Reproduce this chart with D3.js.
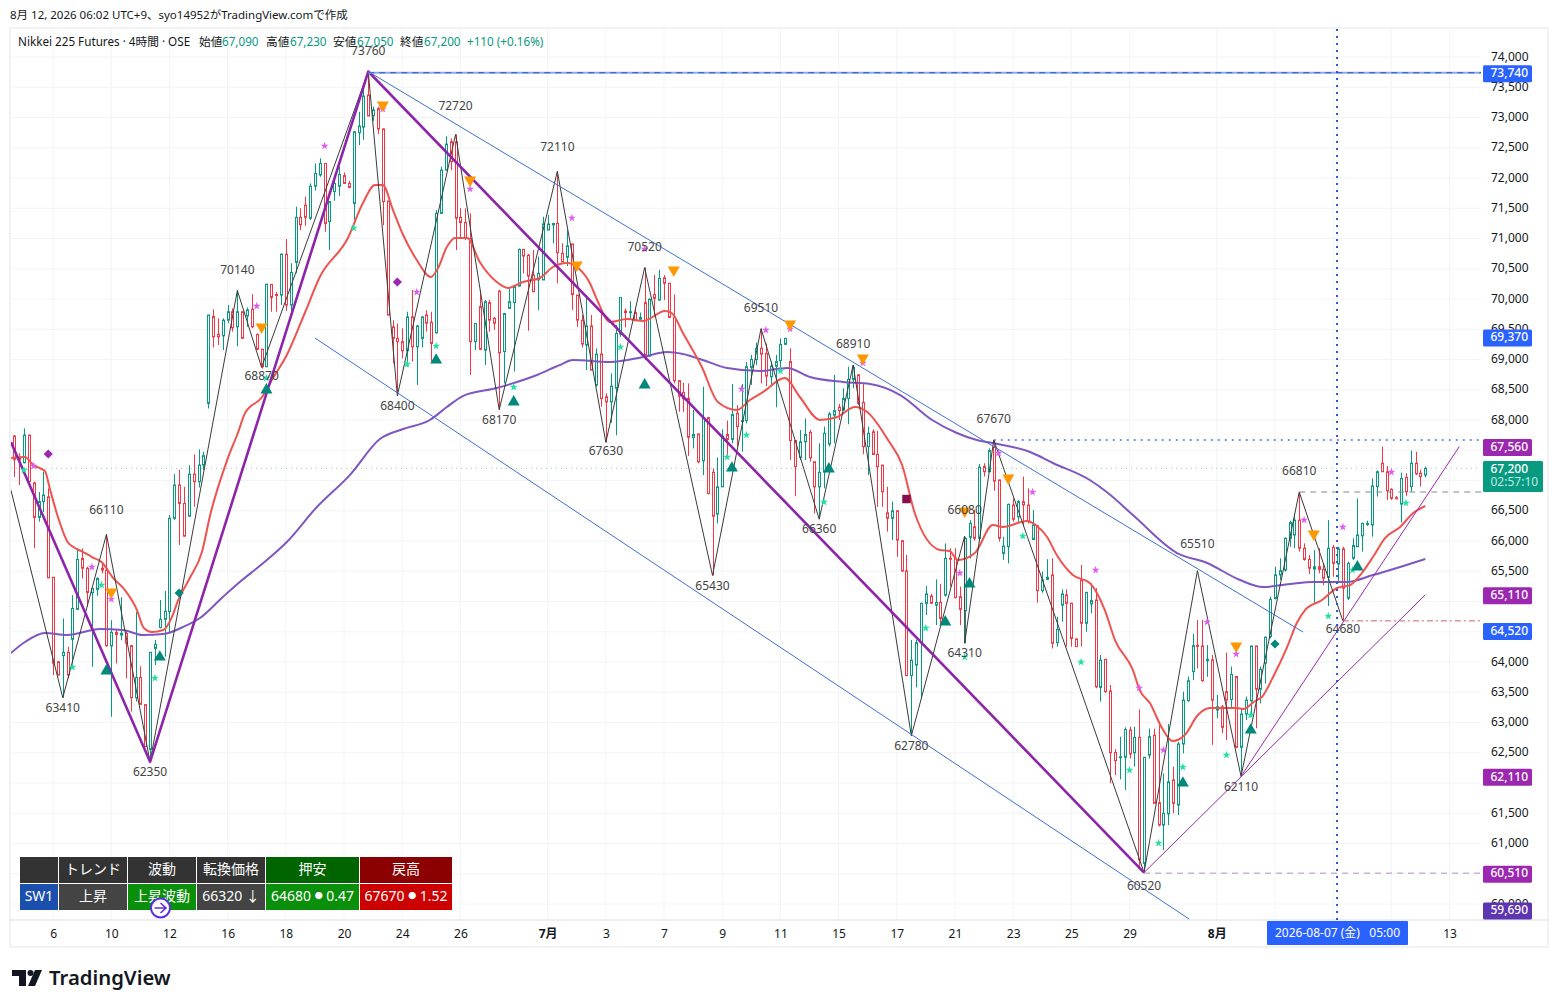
<!DOCTYPE html>
<html>
<head>
<meta charset="utf-8">
<script src="https://cdn.jsdelivr.net/npm/d3@7"></script>
<style>
  html, body { margin: 0; padding: 0; background: #fff; }
  text { font-family: "Noto Sans", "Noto Sans CJK JP", sans-serif; }
</style>
</head>
<body>
<svg id="chart" width="1558" height="1008"></svg>
<script>
const opens = [
  67735,67380,67294,67750,66960,66390,66650,66730,65400,64005,
  64105,64160,64375,64870,65710,65550,65145,65200,65550,65520,
  64265,64490,64445,64475,64270,63410,63745,63295,62555,64225,
  64570,64705,64830,66375,66925,66620,66410,67105,66980,67255,
  68275,69710,69415,69390,69650,69790,69540,69790,69720,69830,
  69415,69170,68880,70240,70075,70065,70740,69900,70605,71350,
  71550,71335,71865,72050,72240,71280,71775,71865,72040,71910,
  71580,72750,72840,73370,73030,73145,72810,71620,69540,69350,
  69295,69145,69705,69210,69350,69735,69615,69440,71415,72130,
  72600,72600,71350,71265,71000,69295,69875,69155,69940,69680,
  70130,69130,69845,69940,70215,70820,70725,70395,70315,70315,
  71140,71225,71250,70755,70690,70910,70065,69650,69240,69555,
  68580,69090,68385,68300,68525,69420,69800,69775,69775,69665,
  69940,69055,70075,69985,70350,70260,69695,68650,68455,68355,
  67710,67770,67325,68040,67135,66445,66895,67760,67680,68110,
  67975,67990,68870,69000,69185,69100,68715,68890,68980,69250,
  68965,67660,67380,67640,67795,67310,66895,67145,67600,68080,
  68210,68165,68355,68670,68745,68290,67560,67805,67430,67255,
  66465,66375,66500,66005,65505,63775,63950,64320,64970,65090,
  64940,64985,65105,65715,65715,65080,64850,66060,66235,66045,
  67230,67145,67560,67010,65795,65905,66595,66400,66650,66595,
  66025,66250,65180,65365,65440,64320,64940,65110,64970,64380,
  65355,64640,64960,65025,63580,64045,63520,62505,62425,62425,
  62875,62500,62755,60670,62460,62790,61675,61305,61490,62050,
  61635,62645,63360,63840,64275,64265,64020,64035,63205,63260,
  63510,63380,63760,62590,63140,63360,64265,63550,63980,64420,
  65050,65440,65520,66045,66100,66345,65880,65695,65535,65575,
  65530,65400,65895,65620,65870,65055,65715,65905,66085,66275,
  66265,66900,67285,67145,66855,66715,66610,67050,66900,67285,
  67120,67090]
const highs = [
  67750,67450,67862,67760,66980,66810,67145,66870,65400,64005,
  64720,64250,65105,65880,65880,65575,65215,65400,65630,66110,
  64690,64530,65070,64530,64280,64830,63930,63305,64160,64365,
  65025,65175,66430,67105,67175,66895,67255,67430,67515,67475,
  69735,69830,69680,69680,69900,69845,70150,69790,69860,70080,
  69430,69170,70250,70245,70120,70755,70990,70590,71525,71500,
  71690,71910,72240,72325,72240,71610,72000,72185,72090,71955,
  72765,73095,73480,73760,73180,73180,72820,71620,69650,69595,
  69515,69790,70150,69570,69705,69815,69790,71470,72185,72690,
  72655,72720,71500,71500,71415,69595,70150,69985,69985,69705,
  70150,69760,70175,70205,70835,70820,70745,70810,70700,71360,
  71390,71250,72110,70920,71140,70910,70065,69735,70065,69735,
  69185,69760,68440,68770,69570,70025,69845,69965,69860,69775,
  70520,70010,70395,70480,70395,70260,70075,68650,68615,68605,
  68165,67770,68550,68040,67200,67380,67845,67990,68595,68245,
  68595,68960,69075,69280,69510,69265,68965,69075,69350,69350,
  69185,67670,67835,68025,67835,67310,67615,67890,68135,68745,
  68265,68525,68880,68910,68760,68605,67890,67845,67820,67255,
  66895,66650,66500,66005,65770,64365,64365,64980,65255,65125,
  65365,65290,65960,65880,65880,65245,66060,66345,66510,67275,
  67285,67530,67670,67010,66070,66620,66705,66680,67065,66870,
  66510,66265,65495,65700,65715,64750,65200,65200,64980,64390,
  65605,65160,65300,65220,64115,64045,63620,62560,62765,62920,
  62930,62930,63215,62425,62900,62900,63015,62160,62975,62270,
  62680,63510,63760,64465,64695,64695,64280,64115,63455,63290,
  64155,63925,63760,63215,63430,64265,64265,63925,64420,65080,
  65575,65715,66060,66335,66455,66810,65960,65770,65850,65880,
  65630,66345,65935,65905,65905,65660,66045,66705,66305,66335,
  67035,67165,67560,67240,66870,66745,67130,67120,67495,67475,
  67175,67230]
const lows = [
  67060,66925,67283,66960,65880,66320,66480,65390,63785,63780,
  63410,63730,63920,64860,65380,64915,63920,65095,65465,64250,
  63095,63975,64360,63730,63180,63345,63300,62600,62350,63950,
  64555,64090,64500,66345,65935,66070,66400,66565,66885,67175,
  68190,69200,69240,69155,69600,69460,69220,69350,69540,69515,
  69155,68850,68880,69790,69790,69900,69805,69790,70425,71140,
  71210,71305,71790,72020,71110,70810,71625,71700,71910,71830,
  71305,72545,72630,73025,72945,72725,71220,69735,68935,68400,
  69020,68880,68965,68580,69200,69460,68965,69430,71405,72130,
  72130,70810,71000,70975,68745,69155,69155,68910,69460,69490,
  68170,68605,69845,68800,70205,70425,69475,70120,69815,70315,
  71140,70920,70260,70615,70545,69820,69540,69200,68825,68825,
  68550,68220,67630,67955,67750,69375,69530,69665,69640,69650,
  68990,69045,69705,69970,69985,69695,68605,68135,68135,67405,
  67530,67285,67090,66770,65430,66290,66895,67395,67615,67560,
  67475,67945,68580,68910,68605,68560,68550,68210,68825,69250,
  67340,66740,67340,67340,67310,66455,66400,66870,67560,67615,
  68000,68165,67930,68525,68245,67435,67090,67430,66565,66565,
  66155,66015,65740,65490,63775,62780,63580,63400,64775,64960,
  64610,64630,65080,65245,65050,64610,64310,65710,66005,66015,
  67065,67145,66830,65990,65685,65630,66320,66290,66265,66290,
  66015,64980,65145,65355,64225,64255,64665,64255,64255,64255,
  64255,64500,64805,63565,63345,63490,61995,62130,62060,61885,
  62405,62270,60615,60520,62405,61665,61280,60890,61305,61500,
  61470,62490,63345,63700,63895,63675,63755,62630,63070,62820,
  62710,63235,62575,62110,63040,63095,62905,63315,63645,64390,
  65035,65355,65495,65905,65880,65825,65675,65455,64970,65465,
  65270,64925,65410,65330,64680,65025,65685,65905,65825,66250,
  66070,66735,67145,66680,66680,66690,66305,66745,66815,67090,
  66900,67050]
const closes = [
  67350,67340,67751,66980,66390,66650,66760,65390,63980,63785,
  64160,63785,64885,65695,65550,65150,65215,65380,65520,64270,
  64490,64455,64475,64310,63410,63745,63300,62600,64160,64290,
  64705,64840,66375,66925,66620,66080,67105,66980,67255,67410,
  69735,69375,69375,69650,69790,69525,69790,69350,69820,69540,
  69170,68880,70245,70025,70060,70740,69900,70440,71350,71225,
  71350,71865,72075,72240,71250,71610,71910,72060,71910,71845,
  72765,72860,73355,73025,73125,72810,71610,69735,69350,69295,
  69145,69705,69210,69555,69705,69600,69265,71415,72130,72560,
  72270,71335,71265,71000,69295,69595,69170,69955,69650,69600,
  69110,69760,69955,70205,70820,70710,70380,70120,70425,71240,
  71240,71250,70765,70615,70880,70075,69650,69255,69555,68825,
  69090,68355,68300,68560,69430,70025,69775,69790,69640,69695,
  69075,69995,70010,70340,70260,69695,68650,68395,68355,67715,
  67760,67310,68025,66785,66410,66895,67735,67680,68090,67890,
  67990,68880,69000,69185,69090,68725,68890,68965,69250,69350,
  67660,67230,67640,67760,67375,66895,67135,67780,68100,68155,
  68155,68355,68670,68870,68275,67560,67780,67430,67230,66815,
  66375,66500,66015,65505,63775,64030,64320,64970,65125,64970,
  64985,64720,65715,65700,65065,64870,66045,66290,66045,67220,
  67145,67495,66990,66045,65915,66605,66360,66650,66595,66320,
  66265,65180,65355,65400,64310,64540,65125,64970,64390,64255,
  64640,65150,65015,63590,64030,63510,62500,62370,62435,62885,
  62480,62755,60730,62425,62765,61665,61305,61500,62020,61665,
  62645,63370,63690,64270,64265,63690,64045,63370,63260,62920,
  63370,63795,62590,63140,63370,64265,63550,63880,64410,65035,
  65440,65510,66045,66305,66345,65880,65695,65550,65575,65530,
  65385,65880,65630,65870,65220,65630,65925,66100,66290,66290,
  66910,67145,67145,66830,66705,66700,67035,66815,67285,67110,
  67065,67200]

// fast moving average
const fastBars = [-0.7,2.2,3.9,6.3,7.4,9,11,12.5,14.2,16,18,20.4,22.8,25.3,26.7,28.4,30.7,32.5,33.8,36.2,38.7,40.4,43.9,46.1,47.6,51.1,53.1,56.2,60,63,68.8,71.9,74.4,76,78.1,80.2,83,85.9,87.4,89.2,90.9,93.4,96,99.5,101.8,104.9,108.4,111.1,114,116.3,118.7,120.2,122.9,126.4,129.7,134.2,135.6,137.9,141.8,145.1,149,151.7,154.4,158.9,162,166.2,169.7,173.4,175.9,180.2,183.1,185.7,190.9,192.9,194.6,198.1,201.8,203.9,208.8,210.9,213,215,218.3,221.8,224.9,227,230.7,232.1,234.2,236.7,238.9,241.4,244.1,246.6,252.2,253.4,255.9,257.3,259.6,262.5,264.5,266.2,269.7,272.8,275.5,277.9,280.2,282.7,285.8,288.5,291]
const fastPrices = [67372,67388,67256,67157,66843,66396,65983,65884,65818,65735,65652,65388,65190,64859,64561,64495,64528,64743,65024,65388,65818,66429,67338,67785,68115,68380,68661,69074,69785,70363,71008,71587,71884,71884,71471,71058,70644,70363,70512,70859,71008,71008,70611,70281,70182,70281,70347,70529,70595,70512,70264,69983,69620,69669,69636,69801,69768,69438,68876,68297,68165,68330,68462,68694,68380,68000,68049,68214,68132,67669,67256,66462,65851,65834,65685,65801,66264,66231,66330,66248,66066,65768,65437,65305,64859,64363,63867,63536,63321,62908,62693,62792,63123,63239,63239,63222,63355,63421,63751,64247,64644,64859,65024,65223,65272,65470,65735,66049,66231,66462,66578]

// slow moving average
const slowBars = [-0.7,2.2,6.3,10.9,17.7,22.4,26.5,30.7,34.8,38.3,43,46.5,51.1,56.2,62.4,69.2,75.4,80.2,85.7,89.2,92.5,99.5,107.8,112.5,115.2,122.9,129.7,134.6,137.9,142,147,153.8,159.4,164.1,170.9,176.5,182.7,189.3,194.4,198.5,201.8,209.5,214.2,221.8,225.3,230.7,239.8,246,252.8,257.5,263.1,267.8,274.8,280.2,285.8,291]
const slowPrices = [64148,64330,64479,64446,64545,64528,64446,64462,64578,64727,65074,65322,65619,65983,66562,67090,67685,67851,68000,68214,68396,68529,68743,68909,68991,68958,69041,69124,69091,68991,68859,68809,68859,68710,68628,68595,68413,68000,67785,67669,67619,67471,67289,67008,66809,66429,65801,65636,65355,65239,65289,65322,65322,65437,65570,65702]

const pivotBars = [10,19,28,46,51,73,79,91,100,112,122,130,144,154,166,173,185,196,196,202,233,244,253,265,274]
const pivotPrices = [63410,66110,62350,70140,68870,73760,68400,72720,68170,72110,67630,70520,65430,69510,66360,68910,62780,66080,64310,67670,60520,65510,62110,66810,64680]

const waveBars = [-0.7,28,73,233]
const wavePrices = [67636,62350,73760,60520]

const priceTicks = d3.range(60000, 74001, 500)
// these tick labels sit fully behind a price tag, only their grid lines show
const coveredTicks = [67500, 67000, 65000, 64500, 62000, 60500]
const dayBars = [8,20,32,44,56,68,80,92,110,122,134,146,158,170,182,194,206,218,230,248,260,272,284,296]
const dayLabels = ['6','10','12','16','18','20','24','26','7月','3','7','9','11','15','17','21','23','25','29','8月','','','','13']

const tagPrices = [73740,69370,67560,65110,64520,62110,60510,59690]
const tagLabels = ['73,740','69,370','67,560','65,110','64,520','62,110','60,510','59,690']
const tagColors = ['#2962ff','#2962ff','#9c27b0','#9c27b0','#2962ff','#9c27b0','#9c27b0','#5e35b1']

const sellBars = [20,51,76,94,116,136,160,175,196,205,252,268]
const sellPrices = [65156,69537,73207,71967,70562,70479,69586,69024,66495,67041,64264,66115]
const buyBars = [19,30,52,87,103,130,148,168,192,197,241,255,277]
const buyPrices = [63851,64082,68496,68991,68297,68578,67206,67190,64661,65289,61999,62875,65570]
const pinkStarBars = [4,16,20,64,50,76,83,94,115,130,150,155,160,175,195,203,210,223,232,237,246,252,266,274,284]
const pinkStarPrices = [67239,65570,65041,72529,69884,73140,70115,71818,71339,70826,68512,69487,69504,68942,65471,67454,66809,65520,63570,62545,64661,64132,66347,66231,67140]
const greenStarBars = [2,12,18,29,70,52,81,87,103,125,147,151,158,167,188,196,208,220,230,236,241,250,255,271,276,287]
const greenStarPrices = [67173,63917,65272,63735,71173,68694,68925,69223,68545,69206,67388,67752,68810,66644,64561,64082,66082,63999,62214,61007,62264,62462,63123,64760,65520,66628]
const violetDiamondBars = [7,79]
const violetDiamondPrices = [67438,70281]
const tealDiamondBars = [34,260]
const tealDiamondPrices = [65140,64297]
const squareBars = [184]
const squarePrices = [66694]

const tableColumns = ['', 'トレンド', '波動', '転換価格', '押安', '戻高']
const tableValues = ['SW1', '上昇', '上昇波動', '66320 ↓', '64680 ● 0.47', '67670 ● 1.52']

const GREEN = '#089981'
const RED = '#f23645'
const svg = d3.select('#chart')

const x = d3.scaleLinear().domain([0, 291]).range([14.3, 1425.3])
const y = d3.scaleLinear().domain([60000, 74000]).range([904, 57])

const plot = { left: 11, right: 1481, top: 29, bottom: 920 }

svg.append('defs').append('clipPath').attr('id', 'plot-clip')
  .append('rect')
  .attr('x', plot.left)
  .attr('y', plot.top)
  .attr('width', plot.right - plot.left)
  .attr('height', plot.bottom - plot.top)

// frame
svg.append('rect')
  .attr('x', 10).attr('y', 28).attr('width', 1538).attr('height', 919)
  .attr('fill', 'none').attr('stroke', '#eceef3').attr('stroke-width', 1.5)

// grid
svg.append('g').selectAll('line').data(priceTicks).join('line')
  .attr('x1', plot.left).attr('x2', plot.right)
  .attr('y1', d => y(d)).attr('y2', d => y(d))
  .attr('stroke', '#f2f4f8')
svg.append('g').selectAll('line').data(dayBars).join('line')
  .attr('x1', d => x(d)).attr('x2', d => x(d))
  .attr('y1', plot.top).attr('y2', plot.bottom)
  .attr('stroke', '#f2f4f8')

svg.append('line')
  .attr('x1', 10).attr('x2', 1548).attr('y1', plot.bottom).attr('y2', plot.bottom)
  .attr('stroke', '#e6e8ee').attr('stroke-width', 1.5)

const chart = svg.append('g').attr('clip-path', 'url(#plot-clip)')

function levelLine (fromBar, price, color, dash, width) {
  chart.append('line')
    .attr('x1', fromBar === null ? plot.left : x(fromBar))
    .attr('x2', plot.right)
    .attr('y1', y(price)).attr('y2', y(price))
    .attr('stroke', color)
    .attr('stroke-width', width || 1)
    .attr('stroke-dasharray', dash)
}

// last price
levelLine(null, 67200, '#9fc9c1', '1 4')

// candles
const bars = d3.range(opens.length)
const candles = chart.append('g').selectAll('g').data(bars).join('g')
const barColor = i => closes[i] >= opens[i] ? GREEN : RED

candles.append('line')
  .attr('x1', i => Math.round(x(i)) + 0.5)
  .attr('x2', i => Math.round(x(i)) + 0.5)
  .attr('y1', i => y(highs[i]))
  .attr('y2', i => y(lows[i]))
  .attr('stroke', barColor)

candles.append('rect')
  .attr('x', i => Math.round(x(i)) - 0.5)
  .attr('width', 2)
  .attr('y', i => y(Math.max(opens[i], closes[i])))
  .attr('height', i => Math.max(1, Math.abs(y(opens[i]) - y(closes[i]))))
  .attr('fill', '#fff')
  .attr('stroke', barColor)

const lineOf = (bs, ps) => d3.line()
  .x(i => x(bs[i]))
  .y(i => y(ps[i]))

function drawPolyline (bs, ps, color, width, curve) {
  chart.append('path')
    .attr('d', lineOf(bs, ps).curve(curve || d3.curveLinear)(d3.range(bs.length)))
    .attr('fill', 'none')
    .attr('stroke', color)
    .attr('stroke-width', width)
    .attr('stroke-linejoin', 'round')
}

drawPolyline(slowBars, slowPrices, '#7e57c2', 2, d3.curveMonotoneX)
drawPolyline(fastBars, fastPrices, '#ef5350', 2, d3.curveMonotoneX)

// zigzag
drawPolyline([-0.7].concat(pivotBars), [66843].concat(pivotPrices), '#3a3a3a', 1)

// channel
drawPolyline([73, 265.8], [73760, 64495], '#3d6fd8', 1)
drawPolyline([62, 242.3], [69355, 59751], '#3d6fd8', 1)

// waves
drawPolyline(waveBars, wavePrices, '#8e24aa', 2.6)
drawPolyline([233, 291], [60520, 65110], '#9c27b0', 1)
drawPolyline([253, 298], [62110, 67560], '#9c27b0', 1)

// levels
levelLine(73, 73740, '#93a8ea', null, 2)
levelLine(73, 73740, '#2a55d0', '6 5')
levelLine(202, 67670, '#4a74d6', '2 5', 1.5)
levelLine(265, 66810, '#888', '6 5')
levelLine(274, 64680, '#c8626c', '6 3 2 3')
levelLine(233, 60510, '#b08fc0', '6 5')

// crosshair
svg.append('line')
  .attr('x1', x(272.8)).attr('x2', x(272.8))
  .attr('y1', plot.top).attr('y2', plot.bottom)
  .attr('stroke', '#2a55d0').attr('stroke-width', 2).attr('stroke-dasharray', '2 5')

function markers (bs, ps, type, size, color, rotate) {
  chart.append('g').selectAll('path').data(d3.range(bs.length)).join('path')
    .attr('d', d3.symbol().type(type).size(size)())
    .attr('transform', i => `translate(${x(bs[i])},${y(ps[i])}) rotate(${rotate || 0})`)
    .attr('fill', color)
}

markers(pinkStarBars, pinkStarPrices, d3.symbolStar, 20, '#df5cf0')
markers(greenStarBars, greenStarPrices, d3.symbolStar, 20, '#22e0a0')
markers(sellBars, sellPrices, d3.symbolTriangle, 62, '#ff9800', 180)
markers(buyBars, buyPrices, d3.symbolTriangle, 62, '#00897b')
markers(violetDiamondBars, violetDiamondPrices, d3.symbolSquare, 42, '#9c27b0', 45)
markers(tealDiamondBars, tealDiamondPrices, d3.symbolSquare, 42, '#00897b', 45)
markers(squareBars, squarePrices, d3.symbolSquare, 72, '#880e4f')

// pivot labels, highs above and lows below with a few hand nudges
const labelNudge = { 72720: -8, 72110: -4, 66110: -4, 66080: -5, 65510: -6, 60520: 3, 67630: -2, 68870: -2, 64680: -2 }
chart.append('g').selectAll('text').data(d3.range(pivotBars.length)).join('text')
  .attr('x', i => x(pivotBars[i]))
  .attr('y', i => y(pivotPrices[i]) + (i % 2 ? -20 : 11) + (labelNudge[pivotPrices[i]] || 0))
  .attr('text-anchor', 'middle')
  .attr('dominant-baseline', 'middle')
  .attr('font-size', '12px')
  .attr('fill', '#444')
  .text(i => pivotPrices[i])

// price axis
const yAxis = svg.append('g')
  .attr('transform', 'translate(1491,0)')
  .call(d3.axisRight(y)
    .tickValues(priceTicks.filter(d => !coveredTicks.includes(d)))
    .tickFormat(d3.format(','))
    .tickSize(0)
    .tickPadding(0))
yAxis.select('.domain').remove()
yAxis.selectAll('text')
  .attr('font-family', '"Noto Sans"')
  .attr('font-size', '12px')
  .attr('fill', '#131722')
  .attr('dy', '0.25em')

// time axis
const xAxis = svg.append('g')
  .attr('transform', `translate(0,${plot.bottom})`)
  .call(d3.axisBottom(x).tickValues(dayBars).tickFormat((d, i) => dayLabels[i]).tickSize(0).tickPadding(9))
xAxis.select('.domain').remove()
xAxis.selectAll('text')
  .attr('font-family', '"Noto Sans", "Noto Sans CJK JP"')
  .attr('font-size', '12px')
  .attr('fill', '#131722')
  .attr('font-weight', (d, i) => dayLabels[i].endsWith('月') ? 700 : 400)

// crosshair time label
svg.append('rect')
  .attr('x', 1267).attr('y', 921).attr('width', 141).attr('height', 24)
  .attr('rx', 1).attr('fill', '#2962ff')
svg.append('text')
  .attr('x', 1337.5).attr('y', 934)
  .attr('text-anchor', 'middle').attr('dominant-baseline', 'middle')
  .attr('font-size', '12px').attr('fill', '#fff')
  .text('2026-08-07 (金)\u00a0\u00a0\u00a005:00')

// price tags, the lowest one is pushed back inside the axis
const tags = svg.append('g').selectAll('g').data(tagPrices).join('g')
  .attr('transform', d => `translate(1483,${Math.min(y(d) + 1, 911)})`)
tags.append('rect')
  .attr('y', -8.5).attr('width', 49).attr('height', 17).attr('rx', 1.5)
  .attr('fill', (d, i) => tagColors[i])
tags.append('text')
  .attr('x', 7.5).attr('dominant-baseline', 'middle')
  .attr('font-size', '12px').attr('fill', '#fff').attr('font-weight', 500)
  .text((d, i) => tagLabels[i])

svg.append('rect')
  .attr('x', 1483).attr('y', 461).attr('width', 60).attr('height', 31).attr('rx', 1.5)
  .attr('fill', GREEN)
svg.append('text').attr('x', 1490.5).attr('y', 469.5).attr('dominant-baseline', 'middle')
  .attr('font-size', '12px').attr('fill', '#fff').attr('font-weight', 500).text('67,200')
svg.append('text').attr('x', 1490.5).attr('y', 483).attr('dominant-baseline', 'middle')
  .attr('font-size', '12px').attr('fill', '#bfeee2').text('02:57:10')

// header
svg.append('text')
  .attr('x', 10).attr('y', 19)
  .attr('font-size', '11.5px').attr('fill', '#131722')
  .text('8月 12, 2026 06:02 UTC+9、syo14952がTradingView.comで作成')

const legendItems = [
  [18, 'Nikkei 225 Futures · 4時間 · OSE', '#131722'],
  [199, '始値', '#131722'], [222, '67,090', GREEN],
  [266, '高値', '#131722'], [290, '67,230', GREEN],
  [333, '安値', '#131722'], [357, '67,050', GREEN],
  [400, '終値', '#131722'], [424, '67,200', GREEN],
  [467, '+110 (+0.16%)', GREEN]
]
svg.append('g').selectAll('text').data(legendItems).join('text')
  .attr('x', d => d[0]).attr('y', 46)
  .attr('font-size', '11.7px')
  .attr('fill', d => d[2])
  .text(d => d[1])

// status table
const tableX = [20, 59, 128, 197, 266, 360, 453]
const headFill = ['#333', '#333', '#333', '#333', '#006400', '#8b0000']
const valueFill = ['#1a4fae', '#444', '#0a8f0a', '#444', '#0a8f0a', '#cc0000']

function tableRow (labels, fills, top, height) {
  const cells = svg.append('g').selectAll('g').data(labels).join('g')
  cells.append('rect')
    .attr('x', (d, i) => tableX[i])
    .attr('y', top)
    .attr('width', (d, i) => tableX[i + 1] - tableX[i] - 1)
    .attr('height', height)
    .attr('fill', (d, i) => fills[i])
  const labelsText = cells.append('text')
    .attr('x', (d, i) => (tableX[i] + tableX[i + 1] - 1) / 2)
    .attr('y', top + height / 2)
    .attr('text-anchor', 'middle')
    .attr('dominant-baseline', 'middle')
    .attr('font-size', '14px')
    .attr('font-family', '"Noto Sans", "Noto Sans CJK JP"')
    .attr('fill', '#fff')
  // the round bullet comes out too big at full size in the CJK font
  labelsText.selectAll('tspan')
    .data(d => d.split(/(●)/))
    .join('tspan')
    .attr('font-size', d => d === '●' ? '8px' : null)
    .text(d => d)
}
tableRow(tableColumns, headFill, 857, 26)
tableRow(tableValues, valueFill, 884, 26)

// replay icon over the table
const replay = svg.append('g').attr('transform', 'translate(160.5,908)')
replay.append('circle').attr('r', 9.5)
  .attr('fill', '#fff').attr('stroke', '#5e2ee6').attr('stroke-width', 2)
replay.append('path')
  .attr('d', 'M-6 0h11M0 -5l5.5 5l-5.5 5')
  .attr('fill', 'none').attr('stroke', '#5e2ee6').attr('stroke-width', 1.6)

// logo
svg.append('path')
  .attr('d', 'M12 970h14v16h-7v-10h-7zM35 970h7l-7 16h-7z')
  .attr('fill', '#131722')
svg.append('circle').attr('cx', 30.5).attr('cy', 973).attr('r', 3).attr('fill', '#131722')
svg.append('text')
  .attr('x', 49).attr('y', 985)
  .attr('font-family', 'Inter')
  .attr('font-size', '20.3px')
  .attr('font-weight', 600)
  .attr('fill', '#131722')
  .text('TradingView')
</script>
</body>
</html>
